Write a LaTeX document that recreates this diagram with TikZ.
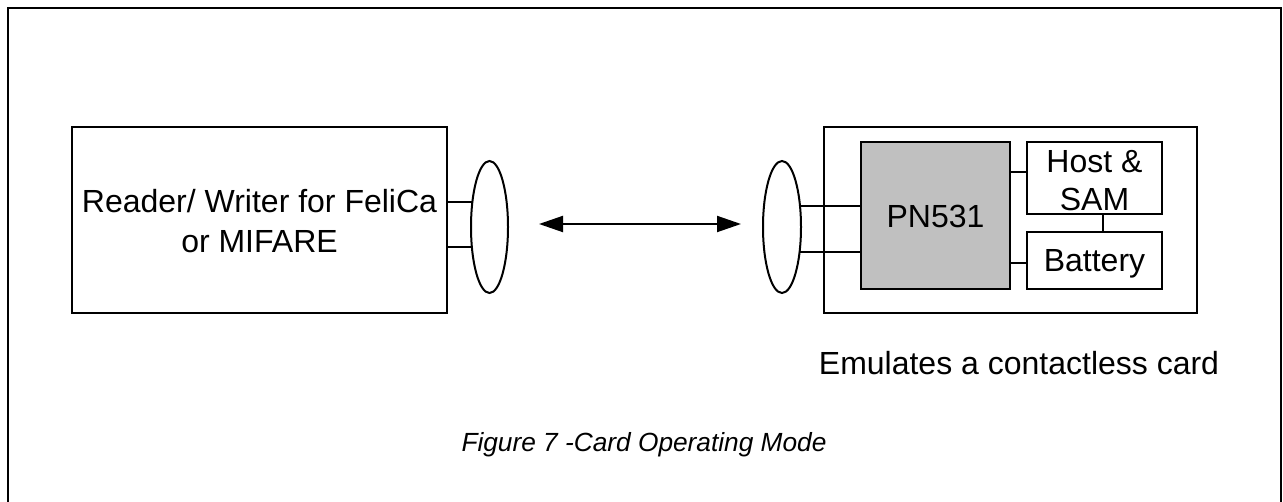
\documentclass[tikz,border=0pt]{standalone}
\usepackage{fontspec}
\setmainfont{Liberation Sans}
\usetikzlibrary{shapes.geometric,arrows.meta}
\begin{document}
\begin{tikzpicture}[x=0.75pt,y=-0.75pt,
  every node/.style={inner sep=0pt,outer sep=0pt},
  lw/.style={line width=1.5pt},
  blk/.style={draw,lw,rectangle},
  txt/.style={anchor=base,font=\fontsize{24}{28}\selectfont},
  loop/.style={draw,lw,ellipse},
  wire/.style={lw}]
\useasboundingbox (0,0) rectangle (1283,502);
\draw[lw] (8,530) -- (8,8) -- (1281,8) -- (1281,530);
% reader
\node[blk,minimum width=281.25pt,minimum height=139.5pt] (rw) at (259.5,220) {};
\node[txt] (rwt1) at (259.5,213) {Reader/ Writer for FeliCa};
\node[txt] (rwt2) at (259.5,253) {or MIFARE};
\node[loop,minimum width=27.75pt,minimum height=99pt] (lel) at (489.5,227) {};
\draw[wire] (rw.east |- lel.124) -- (lel.124);
\draw[wire] (rw.east |- lel.229) -- (lel.229);
% card
\node[blk,minimum width=279.75pt,minimum height=139.5pt] (card) at (1010.5,220) {};
\node[loop,minimum width=28.5pt,minimum height=99pt] (rel) at (782,227) {};
\node[blk,fill={rgb,255:red,192;green,192;blue,192},minimum width=111.75pt,minimum height=110.25pt] (pn) at (935.5,215.5) {};
\node[txt] (pnt) at (935.5,228) {PN531};
\node[blk,minimum width=101.25pt,minimum height=54pt] (host) at (1094.5,178) {};
\node[txt] (hostt1) at (1094.5,173) {Host \&};
\node[txt] (hostt2) at (1094.5,211) {SAM};
\node[blk,minimum width=101.25pt,minimum height=42.75pt] (bat) at (1094.5,260.5) {};
\node[txt] (batt) at (1094.5,272) {Battery};
\coordinate (hw) at ([yshift=4.5pt]host.west);
\coordinate (bw) at ([yshift=-2pt]bat.west);
\coordinate (hs) at ([xshift=6.4pt]host.south);
\coordinate (bn) at ([xshift=6.4pt]bat.north);
\draw[wire] (rel.49) -- (pn.west |- rel.49);
\draw[wire] (rel.305) -- (pn.west |- rel.305);
\draw[wire] (hw) -- (pn.east |- hw);
\draw[wire] (bw) -- (pn.east |- bw);
\draw[wire] (hs) -- (bn);
% arrow
\coordinate (a1) at (539,224);
\coordinate (a2) at (741,224);
\draw[wire,{Triangle[length=18pt,width=12pt]}-{Triangle[length=18pt,width=12pt]}] (a1) -- (a2);
% labels
\node[txt] (emu) at (1019,375) {Emulates a contactless card};
\node[anchor=base,font=\fontsize{19.7}{23}\selectfont\itshape] (cap) at (644,452) {Figure 7 -Card Operating Mode};
\end{tikzpicture}
\end{document}
